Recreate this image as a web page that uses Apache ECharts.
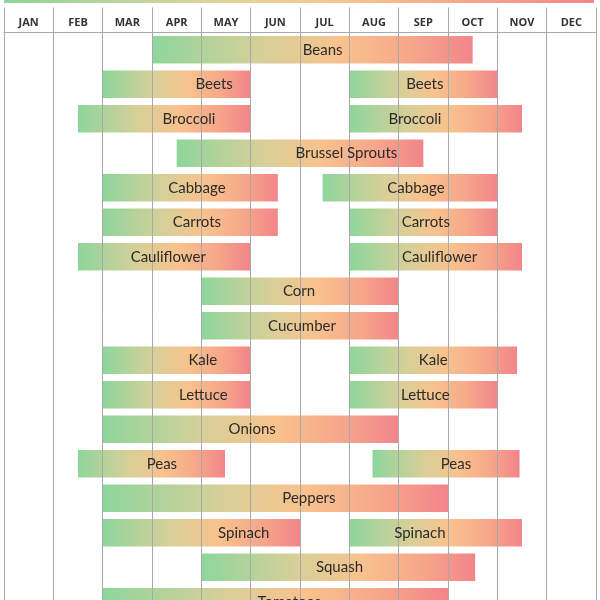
<!DOCTYPE html>
<html>
<head>
<meta charset="utf-8">
<script src="https://cdn.jsdelivr.net/npm/echarts@6/dist/echarts.min.js"></script>
<style>html,body{margin:0;padding:0;background:#fff}#c{width:600px;height:600px}</style>
</head>
<body>
<div id="c"></div>
<script>
const months = ['JAN','FEB','MAR','APR','MAY','JUN','JUL','AUG','SEP','OCT','NOV','DEC'];
const crops = ['Beans','Beets','Broccoli','Brussel Sprouts','Cabbage','Carrots','Cauliflower','Corn','Cucumber','Kale','Lettuce','Onions','Peas','Peppers','Spinach','Squash','Tomatoes'];
// each planting window (months from 1 Jan), and where its label sits
const segCrop  = ['Beans','Beets','Beets','Broccoli','Broccoli','Brussel Sprouts','Cabbage','Cabbage','Carrots','Carrots','Cauliflower','Cauliflower','Corn','Cucumber','Kale','Kale','Lettuce','Lettuce','Onions','Peas','Peas','Peppers','Spinach','Spinach','Squash','Tomatoes'];
const segStart = [3, 2, 7, 1.5, 7, 3.5, 2, 6.46, 2, 7, 1.5, 7, 4, 4, 2, 7, 2, 7, 2, 1.5, 7.47, 2, 2, 7, 4, 2];
const segEnd   = [9.5, 5, 10, 5, 10.5, 8.5, 5.55, 10, 5.55, 10, 5, 10.5, 8, 8, 5, 10.4, 5, 10, 8, 4.48, 10.45, 9, 6, 10.5, 9.55, 9];
const labelAt  = [6.46, 4.26, 8.53, 3.75, 8.33, 6.94, 3.91, 8.35, 3.91, 8.55, 3.33, 8.83, 5.98, 6.04, 4.03, 8.7, 4.04, 8.54, 5.03, 3.2, 9.16, 6.18, 4.86, 8.43, 6.8, 5.78];

const segData = segCrop.map((c, i) => [crops.indexOf(c), segStart[i], segEnd[i], labelAt[i], c]);

const grad = () => new echarts.graphic.LinearGradient(0, 0, 1, 0, [
  {offset: 0, color: '#8ed69c'},
  {offset: 0.35, color: '#d8cf98'},
  {offset: 0.58, color: '#f8c28d'},
  {offset: 0.8, color: '#f6a88a'},
  {offset: 1, color: '#f2858a'}
]);

const chart = echarts.init(document.getElementById('c'), null, {renderer: 'canvas'});
const gray = '#a8a8a8';
// main grid: top 32.45 px, rows 34.5 px apart, the last row runs past the bottom edge
const rowsShown = (600 - 32.45) / 34.5;
chart.setOption({
  animation: false,
  graphic: [{
    type: 'rect', shape: {x: 4, y: -6, width: 590, height: 9},
    style: {fill: new echarts.graphic.LinearGradient(0, 0, 1, 0, [
      {offset: 0, color: '#8ed69c'}, {offset: 0.4, color: '#e6d49a'}, {offset: 0.6, color: '#f8c28d'}, {offset: 1, color: '#f2858a'}
    ])}, z: 10
  }],
  grid: [
    {left: 4, right: 4, top: 7.5, height: 25},
    {left: 4, right: 4, top: 32.45, bottom: 0}
  ],
  xAxis: [
    {gridIndex: 0, type: 'category', data: months, position: 'top', boundaryGap: true,
     axisLine: {show: true, lineStyle: {color: gray, width: 1}},
     axisTick: {show: false},
     splitLine: {show: true, lineStyle: {color: gray, width: 1}},
     axisLabel: {inside: true, margin: 10, fontFamily: 'Open Sans', fontWeight: 'bold', fontSize: 11, color: '#333'}},
    {gridIndex: 1, type: 'value', min: 0, max: 12, interval: 1, z: 3,
     axisLine: {show: false}, axisTick: {show: false}, axisLabel: {show: false},
     splitLine: {show: true, lineStyle: {color: gray, width: 1}}}
  ],
  yAxis: [
    {gridIndex: 0, type: 'value', show: false},
    {gridIndex: 1, type: 'value', inverse: true, min: -0.5, max: -0.5 + rowsShown, show: false}
  ],
  series: [
    {type: 'custom', xAxisIndex: 1, yAxisIndex: 1, z: 2, clip: false,
     encode: {x: [1, 2], y: 0},
     data: segData,
     renderItem: (params, api) => {
       const a = api.coord([api.value(1), api.value(0)]);
       const b = api.coord([api.value(2), api.value(0)]);
       const h = api.size([0, 1])[1] * 0.8;
       return {type: 'rect', shape: {x: a[0], y: a[1] - h / 2, width: b[0] - a[0], height: h},
               style: {fill: grad()}};
     }},
    {type: 'custom', xAxisIndex: 1, yAxisIndex: 1, z: 5, clip: false,
     encode: {x: 3, y: 0},
     data: segData,
     renderItem: (params, api) => {
       const p = api.coord([api.value(3), api.value(0)]);
       return {type: 'text', x: p[0], y: p[1],
               style: {text: segData[params.dataIndex][4], align: 'center', verticalAlign: 'middle',
                       fontFamily: 'Lato', fontSize: 15, fill: '#2b2b2b'}};
     }}
  ]
});
</script>
</body>
</html>
